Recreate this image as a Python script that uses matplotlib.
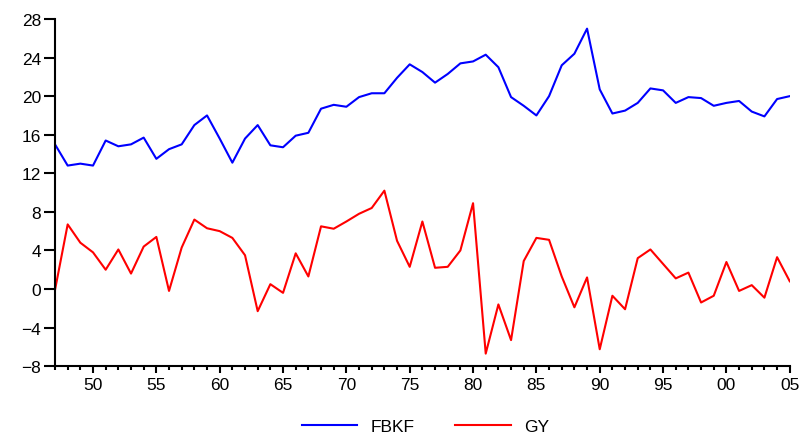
import matplotlib
matplotlib.use("Agg")
import matplotlib.pyplot as plt
from matplotlib.ticker import MultipleLocator, FuncFormatter

plt.rcParams['font.family'] = ['Liberation Sans', 'DejaVu Sans']

years = list(range(1947, 2006))

fbkf = [15.0, 12.8, 13.0, 12.8, 15.4, 14.8, 15.0, 15.7, 13.5, 14.5,
        15.0, 17.0, 18.0, 15.6, 13.1, 15.6, 17.0, 14.9, 14.7, 15.9,
        16.2, 18.7, 19.1, 18.9, 19.9, 20.3, 20.3, 21.9, 23.3, 22.5,
        21.4, 22.3, 23.4, 23.6, 24.3, 23.0, 19.9, 19.0, 18.0, 20.0,
        23.2, 24.4, 27.0, 20.7, 18.2, 18.5, 19.3, 20.8, 20.6, 19.3,
        19.9, 19.8, 19.0, 19.3, 19.5, 18.4, 17.9, 19.7, 20.0]

gy = [-0.1, 6.7, 4.8, 3.8, 2.0, 4.1, 1.6, 4.4, 5.4, -0.2,
      4.3, 7.2, 6.3, 6.0, 5.3, 3.5, -2.3, 0.5, -0.4, 3.7,
      1.3, 6.5, 6.25, 7.0, 7.8, 8.4, 10.2, 5.0, 2.3, 7.0,
      2.2, 2.3, 4.0, 8.9, -6.7, -1.6, -5.3, 2.9, 5.3, 5.1,
      1.3, -1.9, 1.2, -6.25, -0.7, -2.1, 3.2, 4.1, 2.6, 1.1,
      1.7, -1.4, -0.7, 2.8, -0.2, 0.4, -0.9, 3.3, 0.8]

fig = plt.figure(figsize=(8.03, 4.35), dpi=100)
ax = fig.add_axes([0.0685, 0.156, 0.915, 0.798])

ax.plot(years, fbkf, color='#0000ff', lw=1.5, label='FBKF')
ax.plot(years, gy, color='#ff0000', lw=1.5, label='GY')

ax.set_xlim(1947, 2005)
ax.set_ylim(-8, 28)
ax.yaxis.set_major_locator(MultipleLocator(4))
ax.xaxis.set_major_locator(MultipleLocator(5))
ax.xaxis.set_minor_locator(MultipleLocator(1))
ax.xaxis.set_major_formatter(FuncFormatter(lambda v, p: '%02d' % (int(round(v)) % 100)))

for s in ['top', 'right']:
    ax.spines[s].set_visible(False)
for s in ['left', 'bottom']:
    ax.spines[s].set_linewidth(1.5)

ax.tick_params(axis='y', direction='out', length=8, width=1.5, labelsize=12.5, pad=2)
ax.tick_params(axis='x', which='major', direction='out', length=5, width=1.5, labelsize=12.5, pad=3)
ax.tick_params(axis='x', which='minor', direction='out', length=3, width=1.5)

fig.legend(loc='center', bbox_to_anchor=(0.53, 0.018), ncol=2, frameon=False,
           fontsize=12.5, handlelength=3.2, handletextpad=0.8, columnspacing=2.3,
           borderaxespad=0)

fig.savefig('out.png', dpi=100)
